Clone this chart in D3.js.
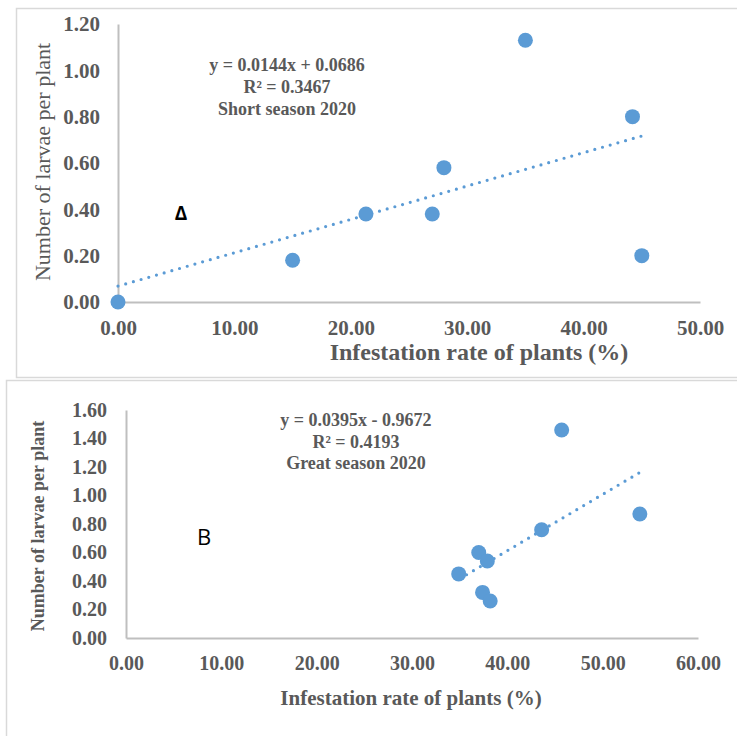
<!DOCTYPE html>
<html>
<head>
<meta charset="utf-8">
<script src="https://cdn.jsdelivr.net/npm/d3@7"></script>
<style>
  body { margin: 0; background: #fff; }
  svg { display: block; }
  text { font-family: "Liberation Serif", "Times New Roman", serif; fill: #595959; }
</style>
</head>
<body>
<svg id="chart" width="737" height="736"></svg>
<script>
// Short season 2020 (panel A)
const shortX = [0, 15, 21.3, 27, 28, 35, 44.2, 45];
const shortY = [0, 0.18, 0.38, 0.38, 0.58, 1.13, 0.80, 0.20];
const shortXTicks = [0, 10, 20, 30, 40, 50];
const shortYTicks = [0, 0.2, 0.4, 0.6, 0.8, 1.0, 1.2];
const shortFit = { slope: 0.0144, intercept: 0.0686, from: 0, to: 45 };
const shortLabels = ["y = 0.0144x + 0.0686", "R² = 0.3467", "Short season 2020"];

// Great season 2020 (panel B)
const greatX = [45.7, 53.9, 43.6, 37, 37.9, 34.9, 37.4, 38.2];
const greatY = [1.46, 0.87, 0.76, 0.60, 0.54, 0.45, 0.32, 0.26];
const greatXTicks = [0, 10, 20, 30, 40, 50, 60];
const greatYTicks = [0, 0.2, 0.4, 0.6, 0.8, 1.0, 1.2, 1.4, 1.6];
const greatFit = { slope: 0.0395, intercept: -0.9672, from: 35, to: 54 };
const greatLabels = ["y = 0.0395x - 0.9672", "R² = 0.4193", "Great season 2020"];

const xTitle = "Infestation rate of plants (%)";
const yTitle = "Number of larvae per plant";

const svg = d3.select("#chart");
const blue = "#5b9bd5";
const axisGrey = "#bfbfbf";
const serif = "'Liberation Serif', 'Times New Roman', serif";

// panel frames
svg.append("rect").attr("x", 16.5).attr("y", 8.5).attr("width", 730).attr("height", 369)
  .attr("fill", "none").attr("stroke", "#d9d9d9").attr("stroke-width", 1.5);
svg.append("rect").attr("x", 6.5).attr("y", 380.5).attr("width", 740).attr("height", 400)
  .attr("fill", "none").attr("stroke", "#d9d9d9").attr("stroke-width", 1.5);

function drawPanel(opt) {
  const x = d3.scaleLinear().domain(opt.xDomain).range([opt.left, opt.right]);
  const y = d3.scaleLinear().domain(opt.yDomain).range([opt.bottom, opt.top]);

  // axes
  const xAxis = svg.append("g")
    .attr("transform", `translate(0, ${opt.bottom})`)
    .call(d3.axisBottom(x).tickValues(opt.xTicks).tickFormat(d3.format(".2f")).tickSize(0).tickPadding(opt.xPad));
  const yAxis = svg.append("g")
    .attr("transform", `translate(${opt.left}, 0)`)
    .call(d3.axisLeft(y).tickValues(opt.yTicks).tickFormat(d3.format(".2f")).tickSize(0).tickPadding(opt.yPad));

  xAxis.select(".domain").attr("stroke", axisGrey).attr("stroke-width", 2);
  yAxis.select(".domain").attr("stroke", axisGrey).attr("stroke-width", 2);
  [xAxis, yAxis].forEach(g => g.selectAll("text")
    .style("font-family", serif)
    .style("font-weight", "bold")
    .style("font-size", opt.tickSize + "px")
    .style("fill", "#595959"));

  // trendline
  const fitLine = [opt.fit.from, opt.fit.to].map(v => [x(v), y(opt.fit.slope * v + opt.fit.intercept)]);
  svg.append("path")
    .attr("d", d3.line()(fitLine))
    .attr("stroke", blue)
    .attr("stroke-width", 3.2)
    .attr("stroke-dasharray", "0 8")
    .attr("stroke-linecap", "round")
    .attr("fill", "none");

  // points
  svg.append("g").selectAll("circle")
    .data(opt.xs.map((v, i) => [v, opt.ys[i]]))
    .enter()
    .append("circle")
    .attr("cx", d => x(d[0]))
    .attr("cy", d => y(d[1]))
    .attr("r", 7.5)
    .attr("fill", blue);

  // equation labels
  svg.append("g").selectAll("text")
    .data(opt.labels)
    .enter()
    .append("text")
    .attr("x", opt.eqX)
    .attr("y", (d, i) => opt.eqY + i * opt.eqGap)
    .attr("text-anchor", "middle")
    .style("font-family", serif)
    .style("font-weight", "bold")
    .style("font-size", opt.eqSize + "px")
    .text(d => d);

  // axis titles
  svg.append("text")
    .attr("x", opt.xTitleX)
    .attr("y", opt.xTitleY)
    .attr("text-anchor", "middle")
    .style("font-family", serif)
    .style("font-weight", "bold")
    .style("font-size", opt.xTitleSize + "px")
    .text(xTitle);

  svg.append("text")
    .attr("transform", `translate(${opt.yTitleX}, ${opt.yTitleY}) rotate(-90)`)
    .attr("text-anchor", "middle")
    .style("font-family", serif)
    .style("font-weight", opt.yTitleWeight)
    .style("font-size", opt.yTitleSize + "px")
    .text(yTitle);

  // panel letter
  svg.append("text")
    .attr("x", opt.letterX)
    .attr("y", opt.letterY)
    .attr("text-anchor", "middle")
    .style("font-family", "'Open Sans', 'DejaVu Sans', sans-serif")
    .style("font-weight", opt.letterWeight)
    .style("font-size", opt.letterSize + "px")
    .style("fill", "#000")
    .text(opt.letter);
}

drawPanel({
  xs: shortX, ys: shortY, xTicks: shortXTicks, yTicks: shortYTicks,
  xDomain: [0, 50], yDomain: [0, 1.2],
  left: 118, right: 700, top: 24, bottom: 302,
  xPad: 18, yPad: 18, tickSize: 21,
  fit: shortFit, labels: shortLabels,
  eqX: 287, eqY: 71, eqGap: 22, eqSize: 18,
  xTitleX: 479, xTitleY: 360, xTitleSize: 24,
  yTitleX: 50, yTitleY: 162, yTitleSize: 22, yTitleWeight: "normal",
  letter: "Δ", letterX: 181, letterY: 220, letterSize: 19, letterWeight: "bold"
});

drawPanel({
  xs: greatX, ys: greatY, xTicks: greatXTicks, yTicks: greatYTicks,
  xDomain: [0, 60], yDomain: [0, 1.6],
  left: 126, right: 698, top: 410, bottom: 638,
  xPad: 18, yPad: 19, tickSize: 20,
  fit: greatFit, labels: greatLabels,
  eqX: 356, eqY: 426, eqGap: 21.5, eqSize: 18,
  xTitleX: 411, xTitleY: 705, xTitleSize: 21,
  yTitleX: 44, yTitleY: 526, yTitleSize: 18, yTitleWeight: "bold",
  letter: "B", letterX: 204, letterY: 545, letterSize: 22, letterWeight: "normal"
});
</script>
</body>
</html>
